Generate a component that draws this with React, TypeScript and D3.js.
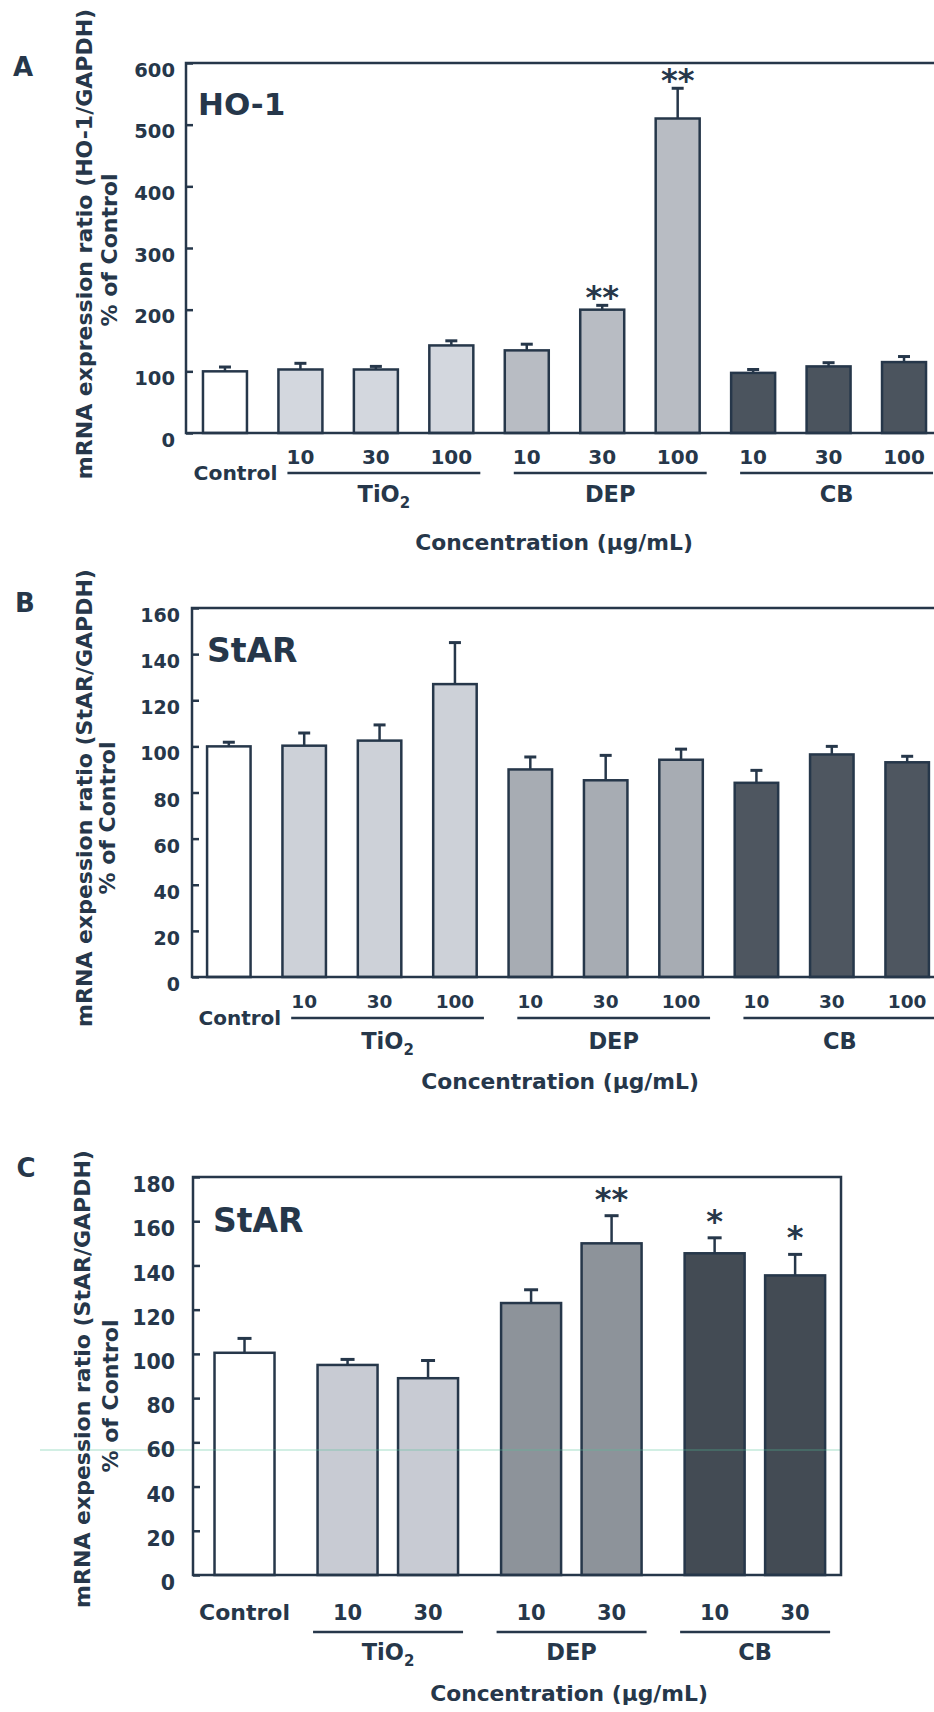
import React, { useEffect, useRef } from 'react';
import * as d3 from 'd3';

// Panels A and B: ten bars
const doseAB = ['Control', '10', '30', '100', '10', '30', '100', '10', '30', '100'];
const particleAB = ['Control', 'TiO2', 'TiO2', 'TiO2', 'DEP', 'DEP', 'DEP', 'CB', 'CB', 'CB'];

// A: HO-1
const ho1Mean = [100, 103, 103, 142, 134, 200, 510, 97.5, 108, 115];
const ho1Err = [7, 10, 5, 7.5, 10, 7, 49, 5.5, 6, 9];
const ho1Sig = ['', '', '', '', '', '**', '**', '', '', ''];
const ho1Ticks = [0, 100, 200, 300, 400, 500, 600];

// B: StAR
const starBMean = [100, 100.3, 102.5, 127, 90, 85.3, 94.2, 84.2, 96.5, 93.1];
const starBErr = [1.8, 5.5, 6.8, 18, 5.4, 10.8, 4.6, 5.4, 3.5, 2.6];
const starBSig = ['', '', '', '', '', '', '', '', '', ''];
const starBTicks = [0, 20, 40, 60, 80, 100, 120, 140, 160];

// C: StAR, seven bars
const doseC = ['Control', '10', '30', '10', '30', '10', '30'];
const particleC = ['Control', 'TiO2', 'TiO2', 'DEP', 'DEP', 'CB', 'CB'];
const starCMean = [100.5, 95, 89, 123, 150, 145.5, 135.5];
const starCErr = [6.5, 2.5, 8, 6, 12.5, 7, 9.5];
const starCSig = ['', '', '', '', '**', '*', '*'];
const starCTicks = [0, 20, 40, 60, 80, 100, 120, 140, 160, 180];

const groupNames = ['TiO2', 'DEP', 'CB'];
const groupOrder = ['Control', 'TiO2', 'DEP', 'CB'];

const ink = '#26374a';
const FONT = "'DejaVu Sans', 'Liberation Sans', sans-serif";

const panels = [
  {
    letter: 'A', letterX: 23, letterY: 67, gene: 'HO-1', geneX: 198, geneY: 104, geneSize: 31,
    yTitle: ['mRNA expression ratio (HO-1/GAPDH)', '% of Control'],
    titleX: [92, 117], titleY: [244, 250],
    dose: doseAB, particle: particleAB, mean: ho1Mean, err: ho1Err, sig: ho1Sig,
    ticks: ho1Ticks, max: 600,
    left: 186, right: 943, top: 63, bottom: 433, pi: 0.417, po: 0.225,
    tickPad: 11, tickDy: 7, tickSize: 19.5, doseSize: 20, doseY: 457,
    controlSide: true, controlSize: 20.3, lineY: 473, lineStart: -13, lineEnd: 29,
    groupY: 494, concX: 554, concY: 542, starGap: 11, capW: 12,
    fills: { Control: '#ffffff', TiO2: '#d3d7de', DEP: '#b8bcc3', CB: '#4b545e' },
  },
  {
    letter: 'B', letterX: 25, letterY: 603, gene: 'StAR', geneX: 207, geneY: 650, geneSize: 33,
    yTitle: ['mRNA expession ratio (StAR/GAPDH)', '% of Control'],
    titleX: [92, 115], titleY: [798, 818],
    dose: doseAB, particle: particleAB, mean: starBMean, err: starBErr, sig: starBSig,
    ticks: starBTicks, max: 160,
    left: 192, right: 944, top: 608, bottom: 977, pi: 0.423, po: 0.2,
    tickPad: 12, tickDy: 7.5, tickSize: 19, doseSize: 18.5, doseY: 1001,
    controlSide: true, controlSize: 20, lineY: 1018, lineStart: -13, lineEnd: 29,
    groupY: 1041, concX: 560, concY: 1081, starGap: 11, capW: 12,
    fills: { Control: '#ffffff', TiO2: '#cdd1d8', DEP: '#a7acb3', CB: '#4e5660' },
  },
  {
    letter: 'C', letterX: 26, letterY: 1168, gene: 'StAR', geneX: 213, geneY: 1220, geneSize: 33,
    yTitle: ['mRNA expession ratio (StAR/GAPDH)', '% of Control'],
    titleX: [90, 118], titleY: [1379, 1396],
    dose: doseC, particle: particleC, mean: starCMean, err: starCErr, sig: starCSig,
    ticks: starCTicks, max: 180,
    left: 193, right: 841, top: 1177, bottom: 1575,
    slotGap: 0.28, slotDomain: [-0.64, 7.41], barWidth: 60,
    tickPad: 18, tickDy: 8, tickSize: 20.5, doseSize: 21, doseY: 1612,
    controlSide: false, controlSize: 22, lineY: 1632, lineStart: -34.5, lineEnd: 35,
    groupY: 1652, concX: 569, concY: 1693, starGap: 20, capW: 14,
    fills: { Control: '#ffffff', TiO2: '#c8cbd3', DEP: '#8d939a', CB: '#434b54' },
    artifactY: 1450,
  },
];

function drawPanel(svg: any, p: any) {
  const n = p.mean.length;
  const y = d3.scaleLinear().domain([0, p.max]).range([p.bottom, p.top]);

  let cx: (i: number) => number;
  let bw: number;
  if (p.slotGap == null) {
    const x = d3.scaleBand<number>()
      .domain(d3.range(n))
      .range([p.left, p.right])
      .paddingInner(p.pi)
      .paddingOuter(p.po);
    cx = i => (x(i) as number) + x.bandwidth() / 2;
    bw = x.bandwidth();
  } else {
    const slots = p.particle.map((gname: string, i: number) => i + groupOrder.indexOf(gname) * p.slotGap);
    const x = d3.scaleLinear().domain(p.slotDomain).range([p.left, p.right]);
    cx = i => x(slots[i]);
    bw = p.barWidth;
  }

  const g = svg.append('g').attr('font-family', FONT).attr('font-weight', 'bold').attr('fill', ink);

  // bars
  g.selectAll('rect.bar')
    .data(p.mean)
    .enter()
    .append('rect')
    .attr('x', (d: number, i: number) => cx(i) - bw / 2)
    .attr('y', (d: number) => y(d))
    .attr('width', bw)
    .attr('height', (d: number) => y(0) - y(d))
    .attr('fill', (d: number, i: number) => p.fills[p.particle[i]])
    .attr('stroke', ink)
    .attr('stroke-width', 2.5);

  // error bars
  const eb = g.selectAll('g.err').data(p.mean).enter().append('g')
    .attr('stroke', ink).attr('stroke-width', 2.5);
  eb.append('line')
    .attr('x1', (d: number, i: number) => cx(i)).attr('x2', (d: number, i: number) => cx(i))
    .attr('y1', (d: number) => y(d)).attr('y2', (d: number, i: number) => y(d + p.err[i]));
  eb.append('line')
    .attr('x1', (d: number, i: number) => cx(i) - p.capW / 2).attr('x2', (d: number, i: number) => cx(i) + p.capW / 2)
    .attr('y1', (d: number, i: number) => y(d + p.err[i])).attr('y2', (d: number, i: number) => y(d + p.err[i]))
    .attr('stroke-width', 3);

  // significance stars
  const starSize = 32;
  g.selectAll('text.sig')
    .data(p.mean)
    .enter()
    .append('text')
    .attr('x', (d: number, i: number) => cx(i))
    .attr('y', (d: number, i: number) => y(d + p.err[i]) - p.starGap + 0.44 * starSize)
    .attr('text-anchor', 'middle')
    .attr('font-size', starSize)
    .text((d: number, i: number) => p.sig[i]);

  // scan artifact line
  if (p.artifactY) {
    g.append('line')
      .attr('x1', 40).attr('x2', p.right + 1)
      .attr('y1', p.artifactY).attr('y2', p.artifactY)
      .attr('stroke', '#4fbf98').attr('stroke-opacity', 0.35).attr('stroke-width', 1.5);
  }

  // frame
  g.append('rect')
    .attr('x', p.left).attr('y', p.top)
    .attr('width', p.right - p.left).attr('height', p.bottom - p.top)
    .attr('fill', 'none').attr('stroke', ink).attr('stroke-width', 2.5);

  // y axis: inward ticks
  const axis = g.append('g')
    .attr('transform', `translate(${p.left},0)`)
    .call(d3.axisLeft(y).tickValues(p.ticks).tickSizeInner(-7).tickSizeOuter(0).tickPadding(p.tickPad));
  axis.select('.domain').remove();
  axis.attr('font-family', FONT).attr('font-size', p.tickSize).attr('font-weight', 'bold').attr('color', ink);
  axis.selectAll('line').attr('stroke-width', 2.5);
  axis.selectAll('text').attr('y', p.tickDy).attr('fill', ink);

  // dose labels
  p.dose.forEach((lab: string, i: number) => {
    if (lab === 'Control') return;
    g.append('text')
      .attr('x', cx(i)).attr('y', p.doseY).attr('dy', '0.36em')
      .attr('text-anchor', 'middle').attr('font-size', p.doseSize)
      .text(lab);
  });

  // control label
  const ci = p.dose.indexOf('Control');
  const firstGroup = p.particle.indexOf('TiO2');
  if (p.controlSide) {
    g.append('text')
      .attr('x', cx(firstGroup) + p.lineStart - 10).attr('y', p.lineY).attr('dy', '0.36em')
      .attr('text-anchor', 'end').attr('font-size', p.controlSize)
      .text('Control');
  } else {
    g.append('text')
      .attr('x', cx(ci)).attr('y', p.doseY).attr('dy', '0.36em')
      .attr('text-anchor', 'middle').attr('font-size', p.controlSize)
      .text('Control');
  }

  // group underlines and names
  groupNames.forEach(name => {
    const first = p.particle.indexOf(name);
    const last = p.particle.lastIndexOf(name);
    const x1 = cx(first) + p.lineStart;
    const x2 = cx(last) + p.lineEnd;
    g.append('line')
      .attr('x1', x1).attr('x2', x2).attr('y1', p.lineY).attr('y2', p.lineY)
      .attr('stroke', ink).attr('stroke-width', 2.5);
    const t = g.append('text')
      .attr('x', (x1 + x2) / 2).attr('y', p.groupY).attr('dy', '0.36em')
      .attr('text-anchor', 'middle').attr('font-size', 22.5);
    if (name === 'TiO2') {
      t.append('tspan').text('TiO');
      t.append('tspan').attr('font-size', 15).attr('dy', 6).text('2');
    } else {
      t.text(name);
    }
  });

  // x title
  g.append('text')
    .attr('x', p.concX).attr('y', p.concY).attr('dy', '0.36em')
    .attr('text-anchor', 'middle').attr('font-size', 21.8)
    .text('Concentration (\u00b5g/mL)');

  // y title (two rotated lines)
  p.yTitle.forEach((line: string, k: number) => {
    g.append('text')
      .attr('transform', `translate(${p.titleX[k]},${p.titleY[k]}) rotate(-90)`)
      .attr('text-anchor', 'middle').attr('font-size', 22)
      .text(line);
  });

  // panel letter and gene name
  g.append('text')
    .attr('x', p.letterX).attr('y', p.letterY).attr('dy', '0.36em')
    .attr('text-anchor', 'middle').attr('font-size', 26)
    .text(p.letter);
  g.append('text')
    .attr('x', p.geneX).attr('y', p.geneY).attr('dy', '0.36em')
    .attr('font-size', p.geneSize)
    .text(p.gene);
}

const App = () => {
  const ref = useRef<SVGSVGElement>(null);

  useEffect(() => {
    const svg = d3.select(ref.current);
    svg.selectAll('*').remove();
    svg.append('rect').attr('width', 934).attr('height', 1712).attr('fill', '#ffffff');
    panels.forEach(p => drawPanel(svg, p));
  }, []);

  return (
    <svg
      ref={ref}
      width={934}
      height={1712}
      style={{ position: 'absolute', left: 0, top: 0, display: 'block' }}
    />
  );
};

export default App;
